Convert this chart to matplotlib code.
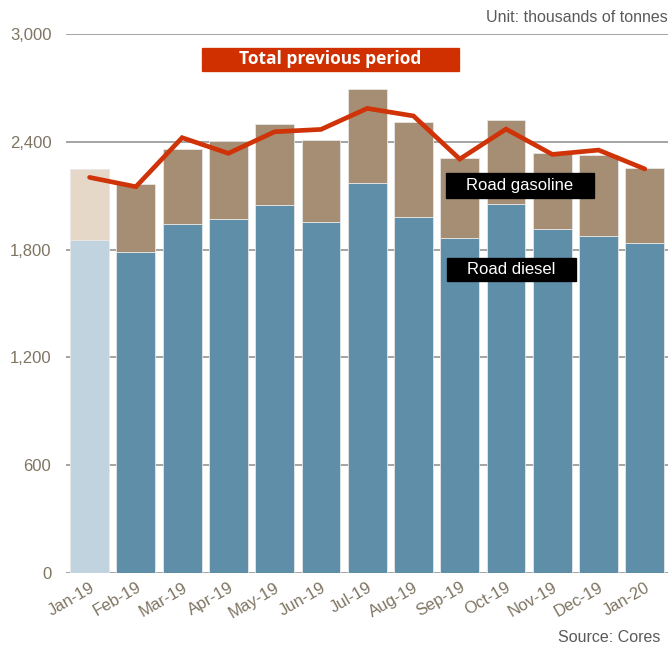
import numpy as np
import matplotlib.pyplot as plt
from matplotlib.patches import Rectangle

months = ["Jan-19", "Feb-19", "Mar-19", "Apr-19", "May-19", "Jun-19", "Jul-19",
          "Aug-19", "Sep-19", "Oct-19", "Nov-19", "Dec-19", "Jan-20"]
road_diesel = [1853, 1788, 1941, 1968, 2046, 1955, 2169,
               1981, 1865, 2052, 1913, 1878, 1835]
road_total = [2249, 2165, 2362, 2404, 2501, 2410, 2695,
              2508, 2310, 2521, 2336, 2326, 2252]
prev_total = [2202, 2150, 2423, 2336, 2456, 2469, 2586,
              2544, 2304, 2471, 2330, 2354, 2249]
yticks = [0, 600, 1200, 1800, 2400, 3000]

road_gasoline = [t - d for t, d in zip(road_total, road_diesel)]

plt.rcParams['font.family'] = ['Liberation Sans', 'DejaVu Sans']

diesel_c = ['#c0d3df'] + ['#5f8ea9'] * (len(months) - 1)
gas_c = ['#e5d8c8'] + ['#a58e73'] * (len(months) - 1)
txt_c = '#7f7462'

fig = plt.figure(figsize=(7, 6.75), dpi=96)
ax = fig.add_axes([0.0982, 0.1157, 0.8958, 0.8318])

x = np.arange(len(months))
ax.bar(x, road_diesel, width=0.84, color=diesel_c, edgecolor='#e8e8e8',
       linewidth=0.6, zorder=2)
ax.bar(x, road_gasoline, bottom=road_diesel, width=0.84, color=gas_c,
       edgecolor='#e8e8e8', linewidth=0.6, zorder=2)
ax.plot(x, prev_total, color='#cf3307', lw=3.5, solid_capstyle='round',
        solid_joinstyle='miter', zorder=3)

ax.set_xlim(-0.51, 12.5)
ax.set_ylim(0, 3000)
ax.set_yticks(yticks)
ax.set_yticklabels([f"{v:,}" for v in yticks])
ax.yaxis.grid(True, color='#999999', lw=1.3, zorder=0)
ax.set_axisbelow(True)
for s in ax.spines.values():
    s.set_visible(False)
ax.tick_params(axis='y', length=0, pad=11, labelsize=12.5, labelcolor=txt_c)
ax.set_xticks(x)
ax.set_xticklabels(months, rotation=30, ha='right', rotation_mode='anchor')
ax.tick_params(axis='x', length=0, pad=5, labelsize=12.5, labelcolor=txt_c)

# annotation boxes (figure pixel coords -> fraction)
W, H = 672, 648


def box(x0, y0, x1, y1, color, text, **kw):
    fig.patches.append(Rectangle((x0 / W, 1 - y1 / H), (x1 - x0) / W,
                                 (y1 - y0) / H, transform=fig.transFigure,
                                 color=color, zorder=5))
    fig.text((x0 + x1) / 2 / W, 1 - (y0 + y1) / 2 / H, text, color='white',
             ha='center', va='center', zorder=6, **kw)


box(202, 48, 459, 71, '#d03000', "Total previous period",
    family='Open Sans', weight='bold', fontsize=13)
box(446, 173, 594, 198, 'black', "Road gasoline", fontsize=12.5)
box(447, 258, 576, 281, 'black', "Road diesel", fontsize=12.5)

fig.text(668 / W, 1 - 18 / H, "Unit: thousands of tonnes", ha='right',
         va='center', fontsize=12, color='#5a5a5a')
fig.text(660 / W, 1 - 638 / H, "Source: Cores", ha='right', va='center',
         fontsize=12, color='#5a5a5a')

fig.savefig("out.png", dpi=96)
